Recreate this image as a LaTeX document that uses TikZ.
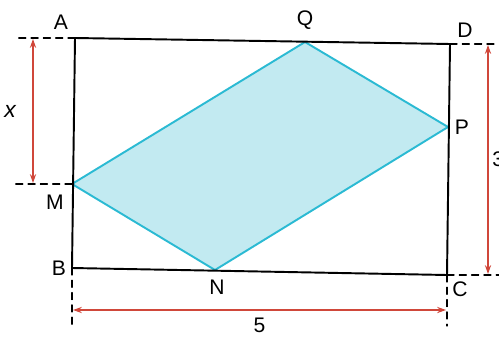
\documentclass[tikz,border=0pt]{standalone}
\usepackage{fontspec}
\setmainfont{Liberation Sans}
\usetikzlibrary{arrows.meta}
\definecolor{RhombFill}{HTML}{C2EAF1}
\definecolor{RhombLine}{HTML}{2BBAD3}
\definecolor{DimRed}{HTML}{D0473A}
\tikzset{
  guide/.style={black,dashed,line width=0.7pt,dash pattern=on 4pt off 3pt},
  dimline/.style={DimRed,line width=0.9pt,{Stealth[length=5pt,width=3.5pt]}-{Stealth[length=5pt,width=3.5pt]}},
  ptlabel/.style={text=black,font=\fontsize{12}{14}\selectfont,inner sep=1pt}
}
\begin{document}
\begin{tikzpicture}[x=0.02cm,y=0.02cm,line cap=round,line join=round]
        \useasboundingbox (0,0) rectangle (499,338);
        % corners and points of the rectangle
        \coordinate (A) at (75,300);
        \coordinate (D) at (450,294);
        \coordinate (C) at (447,63);
        \coordinate (B) at (72,70);
        \coordinate (M) at (72,154);
        \coordinate (P) at (448,211);
        \coordinate (Q) at (305,296);
        \coordinate (N) at (215,68);
        % shaded rhombus
        \path[fill=RhombFill,draw=RhombLine,line width=1.1pt]
          (M) -- (Q) -- (P) -- (N) -- cycle;
        \draw[black,line width=1.1pt] (A) -- (D) -- (C) -- (B) -- cycle;
        % dashed guides
        \coordinate (gA) at (15,300);
        \coordinate (gM) at (15,154);
        \coordinate (gB) at (72,12);
        \coordinate (gD) at (499,294);
        \coordinate (gC) at (499,63);
        \coordinate (gCb) at (447,12);
        \draw[guide] (A) -- (gA);
        \draw[guide] (M) -- (gM);
        \draw[guide] (B) -- (gB);
        \draw[guide] (D) -- (gD);
        \draw[guide] (C) -- (gC);
        \draw[guide] (C) -- (gCb);
        % dimensions
        \coordinate (xtop) at (33,299);
        \coordinate (xbot) at (33,155);
        \coordinate (htop) at (488,293);
        \coordinate (hbot) at (488,64);
        \coordinate (wl) at (73,28);
        \coordinate (wr) at (446,28);
        \draw[dimline] (xtop) -- (xbot) node[midway,left=6pt,text=black,font=\fontsize{13}{14}\selectfont\itshape] (lx) {x};
        \draw[dimline] (htop) -- (hbot) node[midway,right=1pt,ptlabel] (lh) {3};
        \draw[dimline] (wl) -- (wr) node[midway,below=3pt,ptlabel] (lw) {5};
        % point labels
        \node[ptlabel] (lA) at (61,316) {A};
        \node[ptlabel] (lD) at (465,308) {D};
        \node[ptlabel] (lC) at (460,49) {C};
        \node[ptlabel] (lB) at (59,70) {B};
        \node[ptlabel] (lM) at (55,136) {M};
        \node[ptlabel] (lP) at (462,211) {P};
        \node[ptlabel] (lQ) at (305,318) {Q};
        \node[ptlabel] (lN) at (217,51) {N};
      \end{tikzpicture}
\end{document}
